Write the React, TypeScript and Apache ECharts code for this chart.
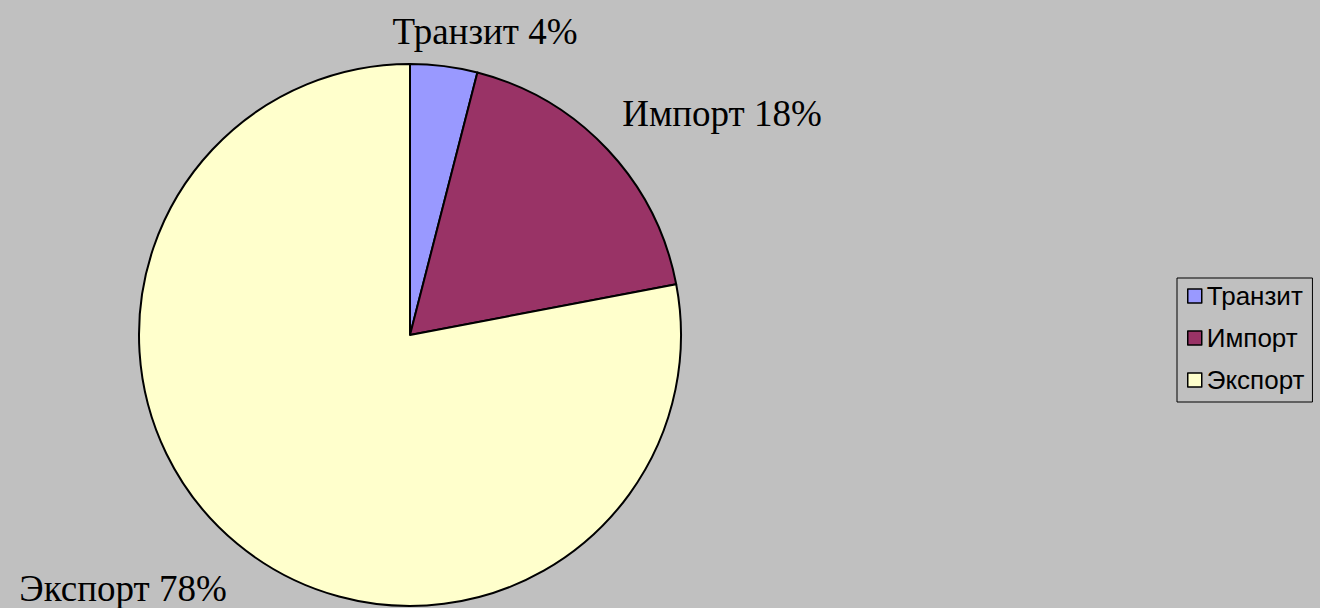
import React, { useEffect, useRef } from "react";
import * as echarts from "echarts";

const categories = ["Транзит", "Импорт", "Экспорт"];
const shares = [4, 18, 78];
const colors = ["#9999FF", "#993366", "#FFFFCC"];

// label centres (layout, not data)
const labelCenters = [
  [485, 31],
  [722, 113],
  [123, 588],
];

export default function App() {
  const ref = useRef<HTMLDivElement>(null);
  useEffect(() => {
    if (!ref.current) return;
    const chart = echarts.init(ref.current, null, { renderer: "svg" });
    chart.setOption({
      animation: false,
      backgroundColor: "#C0C0C0",
      legend: {
        orient: "vertical",
        left: 1177,
        top: 278,
        padding: [5, 8, 9, 10],
        itemGap: 16,
        itemWidth: 14,
        itemHeight: 14,
        itemTextGap: 15,
        icon: "rect",
        borderColor: "#000",
        borderWidth: 1,
        itemStyle: { borderColor: "#000", borderWidth: 1.5 },
        textStyle: { fontFamily: "Liberation Sans, Arial", fontSize: 26, color: "#000" },
        data: categories,
      },
      series: [
        {
          type: "pie",
          center: [410, 335],
          radius: [0, 271],
          startAngle: 90,
          clockwise: true,
          itemStyle: { borderColor: "#000", borderWidth: 2 },
          emphasis: { disabled: true },
          label: {
            show: true,
            position: "outside",
            overflow: "none",
            formatter: (p: any) => `${p.name} ${p.value}%`,
            fontFamily: "Liberation Serif, Times New Roman",
            fontSize: 37,
            color: "#000",
          },
          labelLine: { show: false },
          labelLayout: (params: any) => {
            const c = labelCenters[params.dataIndex];
            return { x: c[0], y: c[1], align: "center", verticalAlign: "middle" };
          },
          data: categories.map((name, i) => ({
            name,
            value: shares[i],
            itemStyle: { color: colors[i] },
          })),
        },
      ],
    });
    return () => chart.dispose();
  }, []);
  return (
    <div
      ref={ref}
      style={{ position: "fixed", left: 0, top: 0, width: 1320, height: 608 }}
    />
  );
}
